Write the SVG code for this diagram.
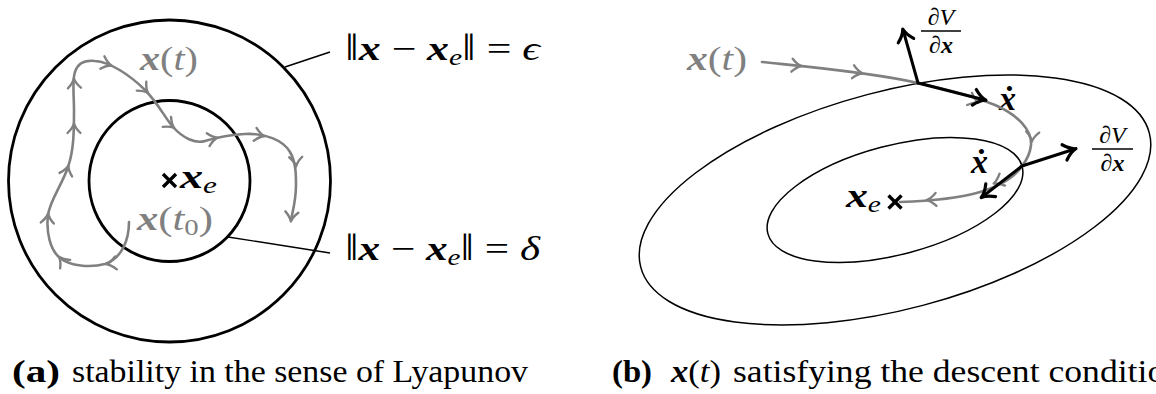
<svg xmlns="http://www.w3.org/2000/svg" xmlns:xlink="http://www.w3.org/1999/xlink" width="1156" height="394" viewBox="0 0 1156 394">
<style>
.m{font-family:"Liberation Serif","DejaVu Serif",serif;font-size:34px;fill:#000}
.f{font-family:"Liberation Serif","DejaVu Serif",serif;font-size:24px;fill:#000}
.c{font-family:"Liberation Serif","DejaVu Serif",serif;font-size:31px;fill:#000}
.v{font-weight:bold;font-style:italic}
.i{font-style:italic}
.s{font-size:23px}
.n{font-size:38px}
.g{fill:#808080}
.ring{fill:none;stroke:#000;stroke-width:2.8}
.ell{fill:none;stroke:#000;stroke-width:1.5}
.lead{stroke:#000;stroke-width:1.4}
.traj{fill:none;stroke:#808080;stroke-width:2.6;stroke-linecap:round}
.vec{stroke:#000;stroke-width:3;stroke-linecap:round}
.cross{stroke:#000;stroke-width:3.4}
</style>
<defs>
<path id="ga" d="M-8,-6.5 Q-3,-1.2 1.5,0 Q-3,1.2 -8,6.5" fill="none" stroke="#808080" stroke-width="2.4" stroke-linecap="round" stroke-linejoin="round"/>
<path id="ba" d="M-11,-8 Q-4.5,-1.2 1,0 Q-4.5,1.2 -11,8" fill="none" stroke="#000" stroke-width="3.2" stroke-linecap="round" stroke-linejoin="round"/>
</defs>

<!-- (a) -->
<g id="outer-circle"><circle class="ring" cx="169.5" cy="181" r="161"/></g>
<g id="inner-circle"><circle class="ring" cx="169.5" cy="181" r="80.5"/></g>
<g id="equilibrium-a">
<line class="cross" x1="163" y1="174" x2="176" y2="187"/><line class="cross" x1="176" y1="174" x2="163" y2="187"/>
<text class="m" x="180" y="188" textLength="37" lengthAdjust="spacingAndGlyphs"><tspan class="v">x</tspan><tspan class="s i" dy="5">e</tspan></text>
</g>
<g id="label-xt-a"><text class="m g" x="140" y="70" textLength="58" lengthAdjust="spacingAndGlyphs"><tspan class="v">x</tspan>(<tspan class="i">t</tspan>)</text></g>
<g id="label-xt0"><text class="m g" x="137" y="230" textLength="76" lengthAdjust="spacingAndGlyphs"><tspan class="v">x</tspan>(<tspan class="i">t</tspan><tspan class="s" dy="5">0</tspan><tspan dy="-5">)</tspan></text></g>
<g id="label-eps"><text class="m" x="345" y="60" textLength="195" lengthAdjust="spacingAndGlyphs"><tspan class="n">‖</tspan><tspan class="v">x</tspan> − <tspan class="v">x</tspan><tspan class="s i" dy="5">e</tspan><tspan class="n" dy="-5">‖</tspan> = <tspan class="i">ϵ</tspan></text></g>
<g id="label-delta"><text class="m" x="345" y="260" textLength="195" lengthAdjust="spacingAndGlyphs"><tspan class="n">‖</tspan><tspan class="v">x</tspan> − <tspan class="v">x</tspan><tspan class="s i" dy="5">e</tspan><tspan class="n" dy="-5">‖</tspan> = <tspan class="i">δ</tspan></text></g>

<!-- (b) -->
<g id="outer-level-set"><ellipse class="ell" cx="895" cy="200" rx="263" ry="109" transform="rotate(-14.8 895 200)"/></g>
<g id="inner-level-set"><ellipse class="ell" cx="895" cy="200" rx="131.5" ry="54.5" transform="rotate(-14.8 895 200)"/></g>
<g id="equilibrium-b">
<line class="cross" x1="888.5" y1="195.5" x2="901.5" y2="208.5"/><line class="cross" x1="901.5" y1="195.5" x2="888.5" y2="208.5"/>
<text class="m" x="846" y="207" textLength="35" lengthAdjust="spacingAndGlyphs"><tspan class="v">x</tspan><tspan class="s i" dy="5">e</tspan></text>
</g>
<g id="label-xt-b"><text class="m g" x="687" y="70" textLength="60" lengthAdjust="spacingAndGlyphs"><tspan class="v">x</tspan>(<tspan class="i">t</tspan>)</text></g>
<g id="label-dvdx-1">
<text class="f" x="941" y="25" text-anchor="middle">∂<tspan class="i">V</tspan></text>
<line x1="921" y1="31" x2="961" y2="31" stroke="#000" stroke-width="1.3"/>
<text class="f" x="941" y="53" text-anchor="middle">∂<tspan class="v">x</tspan></text>
</g>
<g id="label-dvdx-2">
<text class="f" x="1112.5" y="143" text-anchor="middle">∂<tspan class="i">V</tspan></text>
<line x1="1092" y1="149" x2="1133" y2="149" stroke="#000" stroke-width="1.3"/>
<text class="f" x="1112.5" y="171" text-anchor="middle">∂<tspan class="v">x</tspan></text>
</g>
<g id="label-xdot-1"><text class="m v" x="999" y="110">ẋ</text></g>
<g id="label-xdot-2"><text class="m v" x="971" y="173">ẋ</text></g>

<!-- captions -->
<g id="caption-a">
<text class="c" x="12" y="382" font-weight="bold" textLength="48" lengthAdjust="spacingAndGlyphs">(a)</text>
<text class="c" x="72" y="382" textLength="456" lengthAdjust="spacingAndGlyphs">stability in the sense of Lyapunov</text>
</g>
<g id="caption-b">
<text class="c" x="612" y="382" font-weight="bold" textLength="40" lengthAdjust="spacingAndGlyphs">(b)</text>
<text class="c" x="671" y="382" textLength="50" lengthAdjust="spacingAndGlyphs"><tspan class="v">x</tspan>(<tspan class="i">t</tspan>)</text>
<text class="c" x="733" y="382" textLength="450" lengthAdjust="spacingAndGlyphs">satisfying the descent condition</text>
</g>

<g id="connectors">
<line class="lead" x1="285" y1="67" x2="330" y2="52"/>
<line class="lead" x1="228" y1="237" x2="330" y2="253"/>
<path class="traj" d="M129,222 C129,240 122,258 105,264 C90,268 70,266 60,258 C50,250 46,232 48,215 C50,200 62,185 68,167 C74,150 74,130 74,110 C74,95 72,80 75,72 C78,62 86,60 95,61 C110,62 130,75 145,90 C158,103 165,118 173,127 C183,138 195,144 205,141 C215,138 225,135 245,134 C265,133 283,140 290,152 C296,162 296,175 296,185 C296,200 293,210 291,220"/>
<use xlink:href="#ga" transform="translate(108,264) rotate(172)"/>
<use xlink:href="#ga" transform="translate(60,258) rotate(-130)"/>
<use xlink:href="#ga" transform="translate(48,215) rotate(-85)"/>
<use xlink:href="#ga" transform="translate(68,167) rotate(-74)"/>
<use xlink:href="#ga" transform="translate(74,125) rotate(-90)"/>
<use xlink:href="#ga" transform="translate(74,80) rotate(-93)"/>
<use xlink:href="#ga" transform="translate(110,65) rotate(18)"/>
<use xlink:href="#ga" transform="translate(147,92) rotate(47)"/>
<use xlink:href="#ga" transform="translate(173,127) rotate(40)"/>
<use xlink:href="#ga" transform="translate(216,138) rotate(-12)"/>
<use xlink:href="#ga" transform="translate(263,136) rotate(12)"/>
<use xlink:href="#ga" transform="translate(296,165) rotate(88)"/>
<use xlink:href="#ga" transform="translate(291,220) rotate(96)"/>

<path class="traj" d="M762,62 C800,66 870,72 918,83 C945,89 975,97 995,105 C1018,115 1032,130 1031,145 C1030,155 1026,161 1022,166 C1015,177 1000,186 980,192 C960,198 930,201 900,202"/>
<use xlink:href="#ga" transform="translate(800,66) rotate(6)"/>
<use xlink:href="#ga" transform="translate(861,73) rotate(9)"/>
<use xlink:href="#ga" transform="translate(977,102) rotate(22)"/>
<use xlink:href="#ga" transform="translate(1032,140) rotate(95)"/>
<use xlink:href="#ga" transform="translate(995,183) rotate(155)"/>
<use xlink:href="#ga" transform="translate(928,200) rotate(176)"/>

<line class="vec" x1="918" y1="83" x2="903.5" y2="31.5"/>
<use xlink:href="#ba" transform="translate(903,30) rotate(-105.8)"/>
<line class="vec" x1="918" y1="83" x2="984" y2="99.7"/>
<use xlink:href="#ba" transform="translate(985,100) rotate(14.2)"/>
<line class="vec" x1="1022" y1="166" x2="1074" y2="149.3"/>
<use xlink:href="#ba" transform="translate(1075,149) rotate(-17.8)"/>
<line class="vec" x1="1022" y1="166" x2="983" y2="196.2"/>
<use xlink:href="#ba" transform="translate(982,197) rotate(142.2)"/>
</g>
</svg>
